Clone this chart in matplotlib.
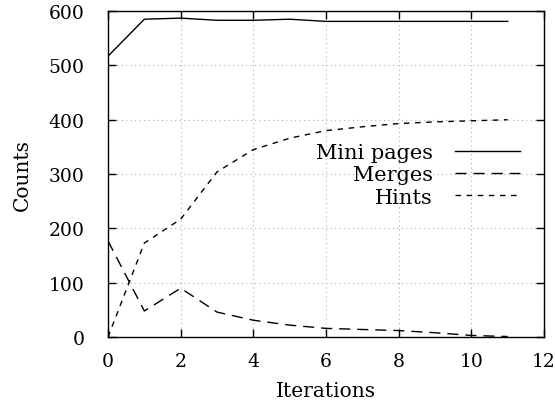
import matplotlib
matplotlib.use("Agg")
import matplotlib.pyplot as plt

iterations = [0, 1, 2, 3, 4, 5, 6, 7, 8, 9, 10, 11]
mini_pages = [517, 585, 587, 583, 583, 585, 581, 581, 581, 581, 581, 581]
merges = [177, 48, 90, 46, 31, 22, 16, 14, 12, 8, 3, 1]
hints = [0, 173, 217, 304, 345, 366, 380, 387, 393, 396, 398, 400]

xticks = [0, 2, 4, 6, 8, 10, 12]
yticks = [0, 100, 200, 300, 400, 500, 600]

plt.rcParams['font.family'] = ['DejaVu Serif']
fs = 13.5

fig = plt.figure(figsize=(5.55, 4.02), dpi=100)
ax = fig.add_axes([0.1946, 0.159, 0.7856, 0.811])

ax.plot(iterations, mini_pages, color='black', lw=1.0, ls='-', label='Mini pages')
ax.plot(iterations, merges, color='black', lw=1.0, ls=(0, (8, 5)), label='Merges')
ax.plot(iterations, hints, color='black', lw=1.0, ls=(0, (4, 4)), label='Hints')

ax.set_xlim(0, 12)
ax.set_ylim(0, 600)
ax.set_xticks(xticks)
ax.set_yticks(yticks)
ax.tick_params(direction='in', top=True, right=True, length=6, width=1, labelsize=fs)
ax.tick_params(axis='x', pad=11)
ax.tick_params(axis='y', pad=17)
ax.grid(True, color='#b0b0b0', ls=(0, (1, 3)), lw=0.8)
for s in ax.spines.values():
    s.set_linewidth(1.0)

ax.set_xlabel('Iterations', fontsize=14.5, labelpad=8)
ax.set_ylabel('Counts', fontsize=14.5, labelpad=12)

leg = ax.legend(loc='upper right', bbox_to_anchor=(0.945, 0.595), markerfirst=False,
                frameon=False, fontsize=15, handlelength=3.1, handletextpad=1.1,
                labelspacing=0.16, borderpad=0, borderaxespad=0)

fig.savefig('out.png', dpi=100)
